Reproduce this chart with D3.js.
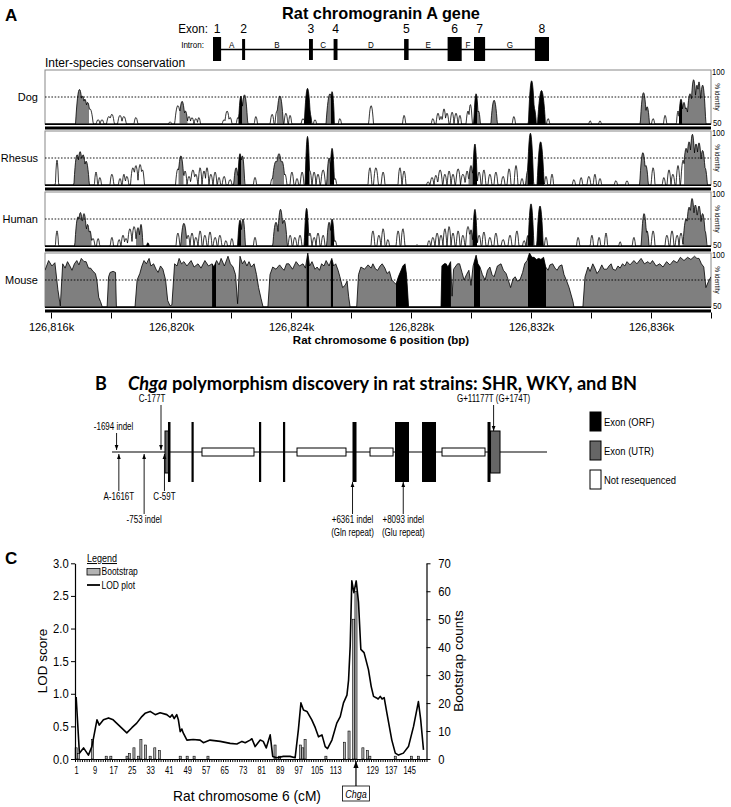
<!DOCTYPE html>
<html><head><meta charset="utf-8">
<script src="https://cdn.jsdelivr.net/npm/d3@7"></script>
<style>body{margin:0;background:#fff}</style>
</head><body><script>
// ================= DATA =================
// Panel A: gene schematic (kb offsets from 126,816k)
const geneExons = [
  {n:"1", s:5.40, e:5.67, tall:true},
  {n:"2", s:6.37, e:6.47, tall:false},
  {n:"3", s:8.60, e:8.73, tall:false},
  {n:"4", s:9.42, e:9.55, tall:false},
  {n:"5", s:11.77, e:11.92, tall:false},
  {n:"6", s:13.22, e:13.69, tall:true},
  {n:"7", s:14.10, e:14.47, tall:true},
  {n:"8", s:16.13, e:16.60, tall:true}
];
const intronLabels = ["A","B","C","D","E","F","G"];
const speciesNames = ["Dog","Rhesus","Human","Mouse"];
const kbTicks = [0,2,4,6,8,10,12,14,16,18,20,22];
const kbBase = 126816;

// conservation peaks: [center kb, half-width bp, % identity, fill g=gray b=black(exon) w=white]
const dogPeaks = [
 [0.95,83,82,"g"],[1.05,67,76,"g"],[1.13,67,73,"g"],[1.22,67,70,"g"],[1.30,67,64,"w"],
 [1.57,40,54,"w"],[1.70,40,54,"w"],[1.93,50,57,"w"],[2.03,50,59,"w"],[2.30,50,58,"w"],[2.43,50,57,"w"],[2.83,40,56,"w"],
 [3.97,33,52,"w"],[4.23,67,67,"w"],[4.37,67,71,"g"],[4.48,50,62,"g"],[4.60,40,57,"w"],[4.70,40,56,"w"],[4.83,40,55,"w"],[4.93,33,56,"w"],
 [5.77,40,54,"w"],[5.87,50,62,"w"],[5.97,40,56,"w"],[6.23,33,56,"w"],[6.33,50,76,"b"],[6.45,67,77,"g"],[6.83,33,57,"w"],
 [7.37,40,59,"w"],[7.53,40,62,"w"],[7.63,73,76,"g"],[7.83,40,60,"w"],[7.97,33,58,"w"],
 [8.40,40,55,"w"],[8.55,67,83,"b"],[8.63,40,60,"b"],[8.80,33,54,"w"],[9.30,83,78,"g"],[9.37,50,80,"b"],[9.63,33,55,"w"],
 [10.67,50,67,"w"],[11.77,33,58,"w"],
 [12.73,33,55,"w"],[12.90,40,60,"w"],[13.00,33,57,"w"],[13.10,40,64,"w"],[13.20,40,60,"w"],[13.37,40,61,"w"],[13.50,40,60,"w"],[13.63,33,58,"w"],
 [13.90,40,62,"w"],[13.98,40,68,"w"],[14.17,50,78,"b"],[14.25,40,62,"g"],[14.77,67,72,"g"],[15.43,33,57,"w"],
 [16.02,67,90,"b"],[16.10,50,65,"b"],[16.35,83,81,"b"],[16.57,33,55,"w"],[17.97,27,53,"w"],[18.30,27,53,"w"],
 [19.75,67,79,"g"],[19.87,50,66,"g"],[20.07,33,55,"w"],[20.47,33,58,"w"],[20.90,33,62,"w"],
 [21.00,50,73,"b"],[21.10,50,70,"g"],[21.17,50,65,"g"],[21.30,67,78,"g"],[21.42,67,91,"g"],[21.53,50,86,"g"],[21.60,50,89,"g"],[21.72,67,86,"g"]
];
const rhesusPeaks = [
 [0.20,33,73,"w"],[0.87,67,78,"g"],[0.97,67,81,"g"],[1.07,67,78,"g"],[1.17,67,72,"g"],[1.50,33,62,"w"],[1.63,33,57,"w"],
 [2.03,40,60,"w"],[2.30,33,56,"w"],[2.43,33,60,"w"],[2.53,40,58,"w"],[2.73,50,66,"w"],[2.83,50,68,"w"],[2.97,50,69,"w"],[3.05,40,64,"w"],
 [4.23,50,65,"w"],[4.33,67,77,"g"],[4.47,40,63,"w"],[4.60,40,58,"w"],[4.73,50,64,"w"],[4.83,40,60,"w"],[4.97,40,66,"w"],[5.10,40,63,"w"],
 [5.20,40,66,"w"],[5.33,40,60,"w"],[5.47,40,62,"w"],[5.60,33,57,"w"],[5.77,40,58,"w"],[5.97,40,55,"w"],
 [6.17,50,66,"g"],[6.30,50,79,"b"],[6.38,50,77,"g"],[6.80,33,57,"w"],[7.37,33,56,"w"],[7.50,83,72,"g"],[7.60,83,79,"g"],[7.70,67,72,"g"],
 [7.80,40,60,"w"],[8.03,40,62,"w"],[8.20,33,56,"w"],[8.37,40,62,"w"],[8.55,50,95,"b"],[8.63,40,63,"w"],[8.77,40,62,"w"],[8.90,40,60,"w"],
 [9.07,50,64,"w"],[9.27,50,75,"g"],[9.37,50,84,"b"],[9.47,33,56,"w"],
 [10.63,40,66,"w"],[10.83,50,66,"w"],[11.07,40,62,"w"],[11.63,40,66,"w"],[11.77,40,63,"w"],
 [12.57,33,53,"w"],[12.70,40,57,"w"],[12.83,40,59,"w"],[12.97,50,64,"w"],[13.13,40,60,"w"],[13.27,40,63,"w"],[13.40,40,60,"w"],
 [13.57,50,65,"w"],[13.73,50,60,"w"],[13.87,40,63,"w"],[14.00,50,68,"g"],[14.13,50,88,"b"],[14.27,40,62,"w"],[14.43,40,64,"w"],
 [14.63,40,60,"w"],[14.83,40,62,"w"],[15.07,40,58,"w"],[15.27,40,65,"w"],[15.50,40,68,"w"],[15.70,33,56,"w"],
 [15.90,50,64,"g"],[15.98,67,98,"b"],[16.32,73,90,"b"],[16.50,33,58,"w"],[16.70,33,60,"w"],
 [17.43,33,55,"w"],[17.67,33,57,"w"],[17.93,40,58,"w"],[18.13,33,60,"w"],[18.30,33,56,"w"],[18.83,33,54,"w"],[19.20,33,54,"w"],
 [19.73,67,80,"g"],[19.83,50,68,"g"],[20.07,40,66,"w"],[20.43,33,57,"w"],[20.60,40,64,"w"],[20.73,40,60,"w"],[20.90,40,68,"w"],
 [21.07,50,73,"w"],[21.17,67,84,"g"],[21.27,67,90,"g"],[21.38,67,97,"g"],[21.50,67,88,"g"],[21.60,67,89,"g"],[21.72,67,82,"g"],[21.80,50,66,"g"]
];
const humanPeaks = [
 [0.20,33,64,"w"],[0.90,67,77,"g"],[0.98,67,81,"g"],[1.10,67,80,"g"],[1.22,50,70,"g"],[1.30,40,64,"g"],[1.40,40,57,"w"],[1.57,33,57,"w"],
 [2.03,33,58,"w"],[2.27,33,56,"w"],[2.40,40,60,"w"],[2.50,40,57,"w"],[2.63,50,66,"w"],[2.77,50,68,"w"],[2.90,50,67,"g"],[3.00,40,70,"g"],[3.23,27,53,"b"],
 [4.23,40,62,"w"],[4.43,67,71,"g"],[4.57,40,60,"w"],[4.70,40,62,"w"],[4.83,40,58,"w"],[4.97,40,64,"w"],[5.13,40,60,"w"],[5.30,40,63,"w"],
 [5.47,40,58,"w"],[5.63,40,60,"w"],[5.83,33,55,"w"],[6.03,33,57,"w"],[6.30,50,74,"b"],[6.40,50,75,"g"],[6.80,33,58,"w"],
 [7.50,67,72,"g"],[7.65,67,84,"g"],[7.77,67,74,"g"],[7.97,40,60,"w"],[8.13,40,58,"w"],[8.30,40,60,"w"],[8.52,50,85,"b"],
 [8.63,40,62,"w"],[8.77,40,58,"w"],[8.90,40,62,"w"],[9.07,40,60,"w"],[9.27,50,72,"g"],[9.37,50,75,"b"],[9.47,33,55,"w"],
 [10.73,40,64,"w"],[10.93,40,60,"w"],[11.07,40,66,"w"],[11.23,33,56,"w"],[11.57,40,64,"w"],[11.73,40,66,"w"],[12.20,27,51,"w"],
 [12.60,33,55,"w"],[12.73,40,58,"w"],[12.87,40,62,"w"],[13.00,40,60,"w"],[13.13,40,66,"w"],[13.27,40,68,"w"],[13.40,40,62,"w"],
 [13.57,40,64,"w"],[13.73,40,60,"w"],[13.90,50,68,"w"],[14.00,40,65,"g"],[14.13,50,84,"b"],[14.27,40,60,"w"],[14.43,40,63,"w"],
 [14.63,40,58,"w"],[14.83,40,62,"w"],[15.07,40,56,"w"],[15.30,40,60,"w"],[15.53,40,64,"w"],[15.77,33,55,"w"],
 [15.90,40,60,"g"],[16.00,60,89,"b"],[16.30,67,87,"b"],[16.50,33,58,"w"],
 [17.57,33,58,"w"],[18.03,33,60,"w"],[18.27,33,58,"w"],[18.50,33,62,"w"],[18.97,27,54,"w"],[19.43,33,58,"w"],
 [19.77,60,80,"g"],[19.87,40,64,"g"],[20.07,40,64,"w"],[20.53,40,60,"w"],[20.70,40,64,"w"],[20.87,40,60,"w"],[21.00,40,62,"w"],
 [21.17,67,75,"g"],[21.27,67,86,"g"],[21.37,67,94,"g"],[21.48,67,88,"g"],[21.60,67,87,"g"],[21.72,67,80,"g"],[21.80,40,64,"g"]
];
// mouse: continuous profile [kb, % identity]
const mouseProfile = [
 [-0.20,84],[-0.08,93],[0.03,88],[0.13,91],[0.23,66],[0.31,51],[0.39,90],[0.47,86],[0.55,92],[0.63,88],[0.70,84],[0.78,90],[0.86,93],
 [0.93,89],[1.01,95],[1.10,92],[1.17,92],[1.25,86],[1.32,86],[1.40,83],[1.48,81],[1.53,75],[1.59,59],[1.65,55],[1.71,50],
 [1.87,50],[1.92,78],[1.97,82],[2.07,83],[2.15,82],[2.18,50],
 [2.80,50],[2.87,75],[2.96,81],[3.03,88],[3.10,93],[3.18,90],[3.27,95],[3.33,88],[3.42,90],[3.50,85],[3.57,82],[3.65,88],[3.73,85],
 [3.82,75],[3.89,56],[3.97,51],[4.03,52],[4.12,90],[4.20,88],[4.27,95],[4.35,90],[4.43,92],[4.53,88],[4.67,93],[4.77,87],[4.90,90],
 [5.00,86],[5.13,93],[5.25,88],[5.37,90],[5.43,87],[5.52,93],[5.60,89],[5.67,95],[5.78,88],[5.90,97],[5.98,90],[6.07,87],[6.15,80],
 [6.22,53],[6.30,97],[6.38,90],[6.45,93],[6.53,88],[6.60,92],[6.68,87],[6.77,90],[6.85,80],[6.92,68],[7.00,58],[7.07,50],
 [7.23,50],[7.30,80],[7.39,87],[7.50,85],[7.62,89],[7.70,86],[7.77,84],[7.85,90],[7.93,90],[8.05,85],[8.17,92],[8.28,88],[8.40,90],
 [8.48,86],[8.56,100],[8.62,88],[8.70,92],[8.80,85],[8.87,87],[8.95,84],[9.02,90],[9.10,88],[9.17,93],[9.27,88],[9.36,95],[9.42,88],
 [9.49,90],[9.57,84],[9.63,78],[9.72,68],[9.80,70],[9.87,74],[9.92,60],[9.97,50],
 [10.19,50],[10.25,80],[10.33,87],[10.45,85],[10.57,89],[10.67,86],[10.73,90],[10.82,85],[10.89,84],[10.97,88],[11.04,90],[11.13,86],
 [11.20,81],[11.28,83],[11.36,75],[11.43,73],[11.50,71],[11.58,78],[11.67,84],[11.73,88],[11.80,90],[11.85,80],[11.92,50],
 [13.00,50],[13.03,88],[13.10,90],[13.17,90],[13.23,87],[13.32,92],[13.37,60],[13.42,85],[13.47,87],[13.55,90],[13.62,90],[13.70,82],
 [13.77,75],[13.85,80],[13.93,84],[14.00,70],[14.07,88],[14.17,98],[14.23,90],[14.30,87],[14.38,80],[14.47,75],[14.55,84],[14.63,87],
 [14.70,80],[14.77,78],[14.88,88],[15.00,90],[15.08,84],[15.17,81],[15.23,76],[15.32,68],[15.40,76],[15.47,78],[15.55,74],[15.63,75],
 [15.72,82],[15.79,90],[15.87,93],[15.95,100],[16.03,96],[16.10,96],[16.18,94],[16.26,95],[16.33,94],[16.42,96],[16.49,87],[16.57,84],
 [16.63,89],[16.72,90],[16.80,86],[16.87,84],[16.95,88],[17.03,89],[17.10,80],[17.19,74],[17.27,68],[17.33,62],[17.40,55],[17.43,50],
 [17.73,50],[17.80,78],[17.90,87],[17.97,83],[18.06,90],[18.13,86],[18.20,81],[18.28,84],[18.36,89],[18.43,85],[18.53,85],[18.60,88],
 [18.67,90],[18.73,85],[18.82,84],[18.90,88],[18.97,86],[19.05,90],[19.13,88],[19.20,92],[19.30,89],[19.43,93],[19.53,90],[19.67,95],
 [19.78,90],[19.90,92],[19.97,90],[20.05,93],[20.17,88],[20.29,90],[20.40,87],[20.52,92],[20.63,89],[20.75,93],[20.87,91],[20.98,96],
 [21.10,93],[21.22,96],[21.33,94],[21.45,97],[21.53,95],[21.60,95],[21.68,90],[21.76,87],[21.83,68],[21.92,74],[22.00,78]
];
const mouseExonRanges = [[5.37,5.50],[8.52,8.60],[9.33,9.40],[11.50,11.92],[13.00,13.33],[14.10,14.30],[15.90,16.50]];

// Panel B (positions in bp relative to transcription start)
const bFeatures = [
  {type:"utr", s:-41, e:96},
  {type:"orf", s:61, e:147},
  {type:"orf", s:864, e:932},
  {type:"nr",  s:1222, e:2997},
  {type:"orf", s:3168, e:3237},
  {type:"orf", s:3987, e:4056},
  {type:"nr",  s:4466, e:6138},
  {type:"orf", s:6360, e:6497},
  {type:"nr",  s:6958, e:7744},
  {type:"orf", s:7811, e:8289},
  {type:"orf", s:8733, e:9211},
  {type:"nr",  s:9416, e:10884},
  {type:"orf", s:10969, e:11072},
  {type:"utr", s:11072, e:11396}
];
const bVariants = [
  {bp:-1694, label:"-1694 indel", sub:"", side:"up", tier:2},
  {bp:-177, label:"C-177T", sub:"", side:"up", tier:1},
  {bp:11177, label:"G+11177T (G+174T)", sub:"", side:"up", tier:1},
  {bp:-1616, label:"A-1616T", sub:"", side:"down", tier:1},
  {bp:-59, label:"C-59T", sub:"", side:"down", tier:1},
  {bp:-753, label:"-753 indel", sub:"", side:"down", tier:2},
  {bp:6361, label:"+6361 indel", sub:"(Gln repeat)", side:"down", tier:2},
  {bp:8093, label:"+8093 indel", sub:"(Glu repeat)", side:"down", tier:2}
];
const bLegend = [{type:"orf", label:"Exon (ORF)"},{type:"utr", label:"Exon (UTR)"},{type:"nr", label:"Not resequenced"}];

// Panel C
const lodPoints = [
 [1,0.95],[2.4,0.09],[4.2,0.17],[6.3,0.06],[7.8,0.19],[10,0.6],[11,0.52],[12.8,0.6],[15,0.63],[17,0.6],[22.9,0.4],[25.1,0.48],
 [27.2,0.55],[29.4,0.65],[30.8,0.7],[33,0.73],[35.2,0.68],[37.3,0.71],[40.2,0.68],[41.6,0.64],[42.5,0.68],[43.4,0.62],[44.5,0.68],
 [45.2,0.6],[46,0.42],[46.7,0.46],[47.3,0.4],[48.9,0.29],[51.6,0.3],[54.6,0.29],[56,0.25],[58.9,0.29],[63.3,0.27],[67.6,0.24],
 [70.5,0.23],[72.7,0.27],[74.1,0.25],[76.2,0.29],[77,0.31],[78.4,0.19],[80.6,0.29],[81.9,0.27],[83.2,0.17],[84.9,0.37],[86,0.04],
 [87.8,0.02],[90.6,0.04],[93.5,0.04],[95.7,0.02],[97.1,0.45],[98.2,0.86],[99.3,0.75],[100.8,0.73],[102.9,0.6],[104.4,0.48],
 [105.8,0.34],[107.3,0.37],[108.7,0.19],[109.7,0.16],[111.6,0.29],[113.7,0.55],[115.2,0.65],[116.6,0.86],[118.1,0.98],[118.8,1.21],
 [119.5,1.73],[120.2,2.73],[121.1,2.55],[122.1,2.73],[123.1,2.40],[124.1,1.68],[125.5,1.63],[127.4,1.37],[128.6,1.11],[129.6,0.96],
 [130.7,0.94],[131.6,0.92],[132.5,0.96],[133.3,0.92],[134.2,0.94],[135.4,0.7],[137.5,0.29],[139,0.09],[140.4,0.06],[142.5,0.09],
 [144.7,0.19],[146.9,0.5],[149,0.88],[150,0.6],[151.2,0.14]
];
const bootstrapCounts = [
 [1,4],[2,2],[8,7],[14,1],[16,1],[23,1],[24,2],[26,4],[28,1],[29,7],[31,5],[33,1],[35,4],[37,3],[46,1],[49,1],[52,1],[58,1],
 [87,5],[89,1],[98,5],[99,4],[100,7],[109,1],[117,6],[119,10],[121,50],[122,60],[125,4],[127,3],[128,1],[139,1],[146,1],[149,1]
];
const cmLabels = [1,9,17,25,33,41,49,57,65,73,81,89,97,105,113,129,137,145];
const lodTicks = [0,0.5,1,1.5,2,2.5,3];
const bootTicks = [0,10,20,30,40,50,60,70];
const chgaCM = 122;

// ================= DRAW =================
const FONT = "'Liberation Sans', Arial, sans-serif";
const svg = d3.select("body").append("svg").attr("width",731).attr("height",807)
  .style("font-family", FONT);
// narrow text helper (condensed look)
function ntext(parent, x, y, str, size, anchor, sx) {
  return parent.append("text").attr("transform",`translate(${x},${y}) scale(${sx||0.82},1)`)
    .attr("text-anchor",anchor||"start").attr("font-size",size).text(str);
}

// ---------- Panel A ----------
svg.append("text").attr("x",5).attr("y",21).attr("font-size",17).attr("font-weight","bold").text("A");
svg.append("text").attr("x",381).attr("y",19).attr("text-anchor","middle").attr("font-size",16.3)
  .attr("font-weight","bold").text("Rat chromogranin A gene");

const xA = d3.scaleLinear().domain([-0.2, 22.0]).range([45, 711]);

// gene schematic
const gs = svg.append("g");
gs.append("line").attr("x1", xA(geneExons[0].s)).attr("x2", xA(geneExons[geneExons.length-1].e))
  .attr("y1",49.5).attr("y2",49.5).attr("stroke","#000").attr("stroke-width",1.6);
gs.selectAll("rect.ex").data(geneExons).join("rect")
  .attr("x",d=>xA(d.s)).attr("width",d=>Math.max(2.5,xA(d.e)-xA(d.s)))
  .attr("y",d=>d.tall?37:39).attr("height",d=>d.tall?24:21).attr("fill","#000");
geneExons.forEach(d => ntext(gs, xA((d.s+d.e)/2), 33, d.n, 13.5, "middle", 0.9));
intronLabels.forEach((d,i) => ntext(gs, xA((geneExons[i].e+geneExons[i+1].s)/2), 47.5, d, 9.5, "middle", 0.85));
ntext(gs, 208, 33, "Exon:", 13.5, "end", 0.86);
ntext(gs, 204, 47.5, "Intron:", 9.5, "end", 0.85);
svg.append("text").attr("x",45).attr("y",67).attr("font-size",12).text("Inter-species conservation");

const trackTops = [70, 131, 192, 253];
const trackH = 54;
const fills = {g:"#7f7f7f", b:"#000"};

// profile = upper envelope of rounded peaks
function envelope(peaks) {
  const out = [];
  const n = Math.round((22.2)*60);
  for (let i = 0; i <= n; i++) {
    const k = -0.2 + i/60;
    let v = 50, f = null;
    for (const [c, hwBp, h, fl] of peaks) {
      const hb = 1.6*hwBp/1000, d = Math.abs(k - c);
      if (d < hb) { const t = h - (h-50)*(d/hb)*(d/hb); if (t > v) { v = t; f = fl; } }
    }
    out.push({k, v, f});
  }
  return out;
}

const peakSets = [dogPeaks, rhesusPeaks, humanPeaks, null];
const defs = svg.append("defs");
defs.append("clipPath").attr("id","mouseExons").selectAll("rect").data(mouseExonRanges).join("rect")
  .attr("x",d=>xA(d[0])).attr("width",d=>xA(d[1])-xA(d[0])).attr("y",0).attr("height",807);
defs.append("clipPath").attr("id","trackClip").append("rect").attr("x",45).attr("y",0).attr("width",666).attr("height",807);

speciesNames.forEach((name, ti) => {
  const top = trackTops[ti], base = top + trackH;
  const y = d3.scaleLinear().domain([50,100]).range([base, top]);
  const g = svg.append("g");
  g.append("rect").attr("x",45).attr("y",top).attr("width",666).attr("height",trackH)
    .attr("fill","none").attr("stroke","#888").attr("stroke-width",1);
  const pg = g.append("g").attr("clip-path","url(#trackClip)");
  if (peakSets[ti]) {
    const s = envelope(peakSets[ti]);
    const runs = []; let cur = null;
    s.forEach((p,i) => {
      if (!cur || p.f !== cur.f) { if (cur) runs.push(cur); cur = {f:p.f, pts: i>0?[s[i-1]]:[]}; }
      cur.pts.push(p);
    });
    runs.push(cur);
    const area = d3.area().x(d=>xA(d.k)).y0(base).y1(d=>y(d.v));
    runs.filter(r=>r.f==="g"||r.f==="b").forEach(r => {
      pg.append("path").attr("d", area(r.pts)).attr("fill", fills[r.f]);
    });
    pg.append("path").attr("d", d3.line().x(d=>xA(d.k)).y(d=>y(d.v))(s))
      .attr("fill","none").attr("stroke","#000").attr("stroke-width",0.8);
  } else {
    const area = d3.area().x(d=>xA(d[0])).y0(base).y1(d=>y(d[1]));
    pg.append("path").attr("d", area(mouseProfile)).attr("fill", fills.g);
    pg.append("path").attr("d", area(mouseProfile)).attr("fill", fills.b).attr("clip-path","url(#mouseExons)");
    pg.append("path").attr("d", d3.line().x(d=>xA(d[0])).y(d=>y(d[1]))(mouseProfile))
      .attr("fill","none").attr("stroke","#000").attr("stroke-width",0.8);
  }
  g.append("line").attr("x1",45).attr("x2",711).attr("y1",y(75)).attr("y2",y(75))
    .attr("stroke","#000").attr("stroke-width",0.9).attr("stroke-dasharray","1.6,1.6");
  g.append("rect").attr("x",45).attr("y",base-0.5).attr("width",666).attr("height",1.5).attr("fill","#000");
  g.append("rect").attr("x",45).attr("y",base+2.5).attr("width",666).attr("height",3).attr("fill","#000");
  g.append("text").attr("x",38).attr("y",y(75)+4).attr("text-anchor","end").attr("font-size",11).text(name);
  ntext(g, 712, top+4.5, "100", 8.5, "start", 0.9);
  ntext(g, 713, base+1.5, "50", 8.5, "start", 0.9);
  g.append("text").attr("transform",`translate(715,${(top+base)/2}) rotate(90)`).attr("text-anchor","middle")
    .attr("font-size",6.3).text("% identity");
});

const axA = d3.axisBottom(xA).tickValues(kbTicks).tickSize(6)
  .tickFormat(d => d%4===0 ? d3.format(",")(kbBase+d)+"k" : "");
const gax = svg.append("g").attr("transform","translate(0,312.5)").call(axA);
gax.select(".domain").remove();
gax.selectAll("text").attr("font-size",11).attr("dy","0.9em");
svg.append("text").attr("x",381).attr("y",344).attr("text-anchor","middle").attr("font-size",11.5)
  .attr("font-weight","bold").text("Rat chromosome 6 position (bp)");

// ---------- Panel B ----------
const TITLEF = "Lato, 'Open Sans', sans-serif";
svg.append("text").attr("x",95).attr("y",390).attr("font-size",18).attr("font-weight","bold")
  .attr("font-family",TITLEF).text("B");
const tB = svg.append("text").attr("x",128).attr("y",390).attr("font-size",18.2).attr("font-weight","bold")
  .attr("font-family",TITLEF);
tB.append("tspan").attr("font-style","italic").text("Chga");
tB.append("tspan").text(" polymorphism discovery in rat strains: SHR, WKY, and BN");

const xB = d3.scaleLinear().domain([-1850, 13000]).range([112, 547]);
const lineY = 452;
const featY = {orf:[422,60], utr:[431,42], nr:[448,8]};
const featFill = {orf:"#000", utr:"#666", nr:"#fff"};
const gb = svg.append("g");
gb.append("line").attr("x1",xB(-1850)).attr("x2",xB(13000)).attr("y1",lineY).attr("y2",lineY)
  .attr("stroke","#000").attr("stroke-width",1.2);
const order = {nr:0, utr:1, orf:2};
gb.selectAll("rect.f").data(bFeatures.slice().sort((a,b)=>order[a.type]-order[b.type])).join("rect")
  .attr("x",d=>xB(d.s)).attr("width",d=>Math.max(2.2,xB(d.e)-xB(d.s)))
  .attr("y",d=>featY[d.type][0]).attr("height",d=>featY[d.type][1])
  .attr("fill",d=>featFill[d.type]).attr("stroke","#000").attr("stroke-width",d=>d.type==="orf"?0:1);

defs.append("marker").attr("id","ah").attr("viewBox","0 0 8 8").attr("refX",8).attr("refY",4)
  .attr("markerWidth",6).attr("markerHeight",6).attr("orient","auto")
  .append("path").attr("d","M0,1 L8,4 L0,7 z").attr("fill","#000");

const labelDx = {"C-177T":-9, "-1694 indel":-3};
bVariants.forEach(v => {
  const x = xB(v.bp);
  const hit = bFeatures.filter(f => f.type!=="nr" && v.bp>=f.s && v.bp<=f.e)
    .sort((a,b)=>featY[b.type][1]-featY[a.type][1])[0];
  let yEnd;
  if (v.side==="up") {
    yEnd = hit ? featY[hit.type][0] : lineY-2;
    const ly = v.tier===1 ? 402 : 430;
    gb.append("line").attr("x1",x).attr("x2",x).attr("y1",ly+3).attr("y2",yEnd)
      .attr("stroke","#000").attr("stroke-width",0.9).attr("marker-end","url(#ah)");
    ntext(gb, x+(labelDx[v.label]||0), ly, v.label, 10, "middle", 0.8);
  } else {
    yEnd = hit ? featY[hit.type][0]+featY[hit.type][1] : lineY+2;
    const ly = v.tier===1 ? 500 : 523;
    gb.append("line").attr("x1",x).attr("x2",x).attr("y1",ly-9).attr("y2",yEnd)
      .attr("stroke","#000").attr("stroke-width",0.9).attr("marker-end","url(#ah)");
    ntext(gb, x, ly, v.label, 10, "middle", 0.8);
    if (v.sub) ntext(gb, x, ly+13, v.sub, 10, "middle", 0.8);
  }
});
const lg = gb.selectAll("g.lg").data(bLegend).join("g").attr("transform",(d,i)=>`translate(590,${412+i*29})`);
lg.append("rect").attr("width",11).attr("height",19).attr("fill",d=>featFill[d.type]).attr("stroke","#000").attr("stroke-width",1);
lg.each(function(d){ ntext(d3.select(this), 14, 13.5, d.label, 11, "start", 0.86); });

// ---------- Panel C ----------
svg.append("text").attr("x",5).attr("y",564).attr("font-size",17).attr("font-weight","bold").text("C");
const xC = d3.scaleLinear().domain([0.5,152.5]).range([75,426.5]);
const yL = d3.scaleLinear().domain([0,3]).range([759,563.3]);
const yR = d3.scaleLinear().domain([0,70]).range([759,563.3]);
const gc = svg.append("g");
gc.selectAll("rect.bs").data(bootstrapCounts).join("rect")
  .attr("x",d=>xC(d[0])-1.05).attr("width",2.1).attr("y",d=>yR(d[1])).attr("height",d=>759-yR(d[1]))
  .attr("fill","#b3b3b3").attr("stroke","#000").attr("stroke-width",0.6);
gc.append("path").attr("d", d3.line().x(d=>xC(d[0])).y(d=>yL(d[1]))(lodPoints))
  .attr("fill","none").attr("stroke","#000").attr("stroke-width",1.6).attr("stroke-linejoin","round");

const axL = gc.append("g").attr("transform","translate(75,0)")
  .call(d3.axisLeft(yL).tickValues(lodTicks).tickFormat(d3.format(".1f")).tickSize(4).tickSizeOuter(0));
axL.selectAll("text").attr("font-size",12.5).attr("transform","scale(0.9,1)");
const axR = gc.append("g").attr("transform","translate(426.5,0)")
  .call(d3.axisRight(yR).tickValues(bootTicks).tickSize(4).tickPadding(9).tickSizeOuter(0));
axR.selectAll("text").attr("font-size",12.5).attr("transform","scale(0.9,1)");
const axBm = gc.append("g").attr("transform","translate(0,759)")
  .call(d3.axisBottom(xC).tickValues(d3.range(0.5,153,1)).tickSize(3).tickFormat("").tickSizeOuter(0));
const axBl = gc.append("g").attr("transform","translate(0,759)")
  .call(d3.axisBottom(xC).tickValues(cmLabels).tickSize(0).tickPadding(8));
axBl.select(".domain").remove();
axBl.selectAll("text").attr("font-size",10).attr("transform","scale(0.75,1)");
gc.selectAll(".domain").attr("stroke-width",1.2);

gc.append("text").attr("transform","translate(47,661) rotate(-90)").attr("text-anchor","middle")
  .attr("font-size",13.5).text("LOD score");
gc.append("text").attr("transform","translate(463,661) rotate(-90)").attr("text-anchor","middle")
  .attr("font-size",13.5).text("Bootstrap counts");
ntext(gc, 247, 801, "Rat chromosome 6 (cM)", 15, "middle", 0.92);

// legend
gc.append("text").attr("x",87).attr("y",562).attr("font-size",10)
  .attr("text-decoration","underline").attr("transform","translate(8.7,0) scale(0.9,1)").text("Legend");
gc.append("rect").attr("x",87).attr("y",568.5).attr("width",13).attr("height",6.5)
  .attr("fill","#b3b3b3").attr("stroke","#000").attr("stroke-width",0.8);
ntext(gc, 101.5, 575, "Bootstrap", 10, "start", 0.85);
gc.append("line").attr("x1",87).attr("x2",100).attr("y1",585).attr("y2",585).attr("stroke","#000").attr("stroke-width",1.8);
ntext(gc, 101.5, 589, "LOD plot", 10, "start", 0.85);

// Chga marker
const cx = xC(chgaCM);
gc.append("line").attr("x1",cx).attr("x2",cx).attr("y1",786).attr("y2",761)
  .attr("stroke","#000").attr("stroke-width",1.2).attr("marker-end","url(#ah)");
gc.append("rect").attr("x",cx-13.5).attr("y",786).attr("width",27).attr("height",15)
  .attr("fill","#fff").attr("stroke","#000").attr("stroke-width",0.8);
gc.append("text").attr("transform",`translate(${cx},797.5) scale(0.9,1)`).attr("text-anchor","middle").attr("font-size",10)
  .attr("font-style","italic").text("Chga");
</script></body></html>
